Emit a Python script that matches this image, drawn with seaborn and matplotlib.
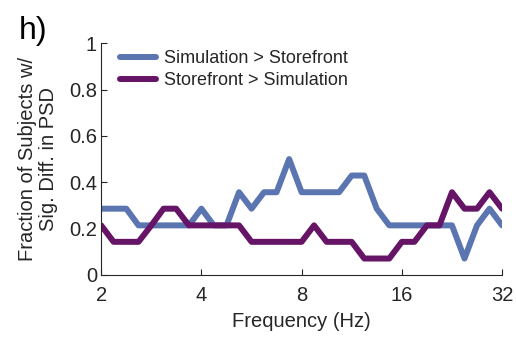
import numpy as np
import pandas as pd
import matplotlib
matplotlib.use("Agg")
import matplotlib.pyplot as plt
import seaborn as sns

# frequency bins (Hz), 8 per octave from 2 to 32
freqs = [2.00, 2.18, 2.38, 2.59, 2.83, 3.08, 3.36, 3.67, 4.00, 4.36, 4.76,
         5.19, 5.66, 6.17, 6.73, 7.34, 8.00, 8.72, 9.51, 10.37, 11.31, 12.34,
         13.45, 14.67, 16.00, 17.45, 19.03, 20.75, 22.63, 24.68, 26.91, 29.34,
         32.00]

# fraction of subjects (out of 14)
sim_gt_store = [0.286, 0.286, 0.286, 0.214, 0.214, 0.214, 0.214, 0.214, 0.286,
                0.214, 0.214, 0.357, 0.286, 0.357, 0.357, 0.500, 0.357, 0.357,
                0.357, 0.357, 0.429, 0.429, 0.286, 0.214, 0.214, 0.214, 0.214,
                0.214, 0.214, 0.071, 0.214, 0.286, 0.214]
store_gt_sim = [0.214, 0.143, 0.143, 0.143, 0.214, 0.286, 0.286, 0.214, 0.214,
                0.214, 0.214, 0.214, 0.143, 0.143, 0.143, 0.143, 0.143, 0.214,
                0.143, 0.143, 0.143, 0.071, 0.071, 0.071, 0.143, 0.143, 0.214,
                0.214, 0.357, 0.286, 0.286, 0.357, 0.286]

labels = ["Simulation > Storefront", "Storefront > Simulation"]
colors = ["#5b75b1", "#661466"]

df = pd.DataFrame({
    "freq": freqs * 2,
    "frac": sim_gt_store + store_gt_sim,
    "cond": [labels[0]] * len(freqs) + [labels[1]] * len(freqs),
})

sns.set_style("ticks")
plt.rcParams["font.family"] = ["Liberation Sans", "DejaVu Sans"]

fig = plt.figure(figsize=(5.16, 3.37), dpi=100)
ax = fig.add_axes([0.196, 0.184, 0.777, 0.688])

sns.lineplot(data=df, x="freq", y="frac", hue="cond", palette=colors,
             linewidth=4.3, ax=ax, legend=True)

ax.set_xscale("log", base=2)
ax.set_xlim(2, 32)
ax.set_ylim(0, 1)
ax.set_xticks([2, 4, 8, 16, 32])
ax.set_xticklabels(["2", "4", "8", "16", "32"])
ax.set_yticks([0, 0.2, 0.4, 0.6, 0.8, 1])
ax.set_yticklabels(["0", "0.2", "0.4", "0.6", "0.8", "1"])
ax.minorticks_off()
ax.tick_params(direction="in", length=4, width=0.8, labelsize=14.5,
               colors="#262626")
ax.tick_params(axis="x", pad=8)
ax.tick_params(axis="y", pad=3)
for s in ["top", "right"]:
    ax.spines[s].set_visible(False)
for s in ["left", "bottom"]:
    ax.spines[s].set_color("#262626")
    ax.spines[s].set_linewidth(0.8)

ax.set_xlabel("Frequency (Hz)", fontsize=14.5, color="#262626", labelpad=5)
ax.set_ylabel("Fraction of Subjects w/\nSig. Diff. in PSD", fontsize=14.5,
              color="#262626", labelpad=8, linespacing=1.15)

leg = ax.legend(loc="upper left", frameon=False, fontsize=13,
                handlelength=2.0, handletextpad=0.4, borderaxespad=0.0,
                labelspacing=0.25, bbox_to_anchor=(0.03, 1.0))
for line in leg.get_lines():
    line.set_linewidth(4.3)

fig.text(0.037, 0.885, "h)", fontsize=23, color="black")

fig.savefig("out.png", dpi=100)
